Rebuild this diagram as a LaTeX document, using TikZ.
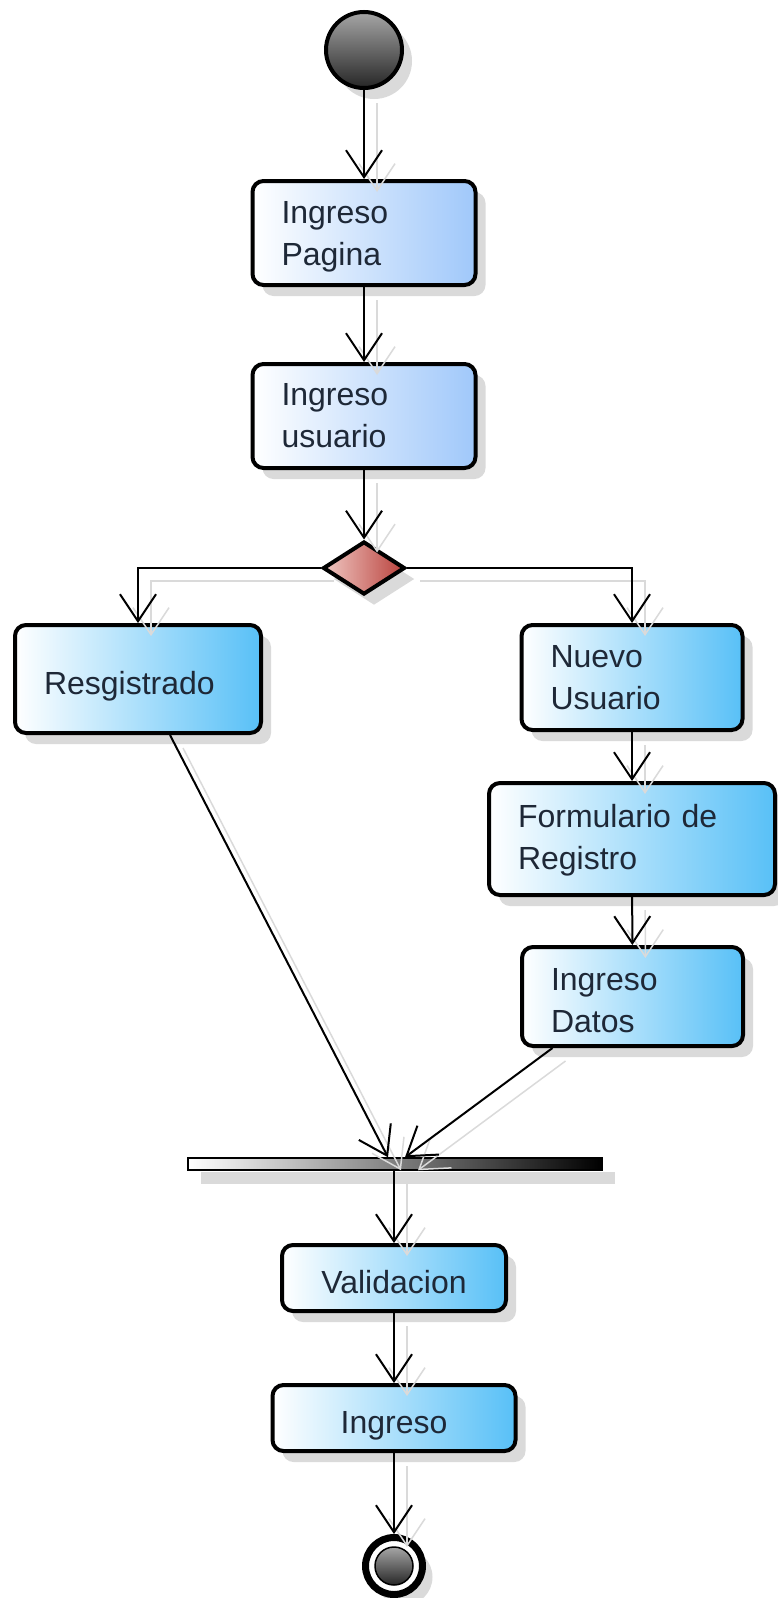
\documentclass[tikz,border=0pt]{standalone}
\usepackage{fontspec}
\setmainfont{Liberation Sans}
\usetikzlibrary{arrows.meta,shapes.geometric,shadows}
\definecolor{txtcol}{RGB}{30,40,55}
\definecolor{paleblue}{RGB}{160,200,250}
\definecolor{skyblue}{RGB}{88,192,247}
\definecolor{pinkish}{RGB}{240,200,195}
\definecolor{darkred}{RGB}{185,65,60}
\definecolor{shadowgray}{RGB}{218,218,218}
\definecolor{lineshadow}{RGB}{218,218,218}
\begin{document}
\begin{tikzpicture}[x=1pt,y=-1pt,
  shad/.style={drop shadow={shadow xshift=10pt,shadow yshift=-11pt,fill=shadowgray,opacity=1}},
  act/.style={draw=black, line width=4pt, rounded corners=11pt, shad,
    inner xsep=29pt, inner ysep=0pt, font=\fontsize{32pt}{42pt}\selectfont, text=txtcol},
  pale/.style={left color=white, right color=paleblue},
  sky/.style={left color=white, right color=skyblue},
  twoline/.style={align=left, text height=12pt, text depth=32pt},
  oneleft/.style={align=left, text height=30pt, text depth=0pt},
  onecenter/.style={align=center, text height=30pt, text depth=0pt},
  conn/.style={draw=black, line width=2pt, -{Straight Barb[length=27pt,width=36pt]},
    preaction={draw=lineshadow, line width=1.5pt, transform canvas={shift={(13pt,-13pt)}}}}
]
\useasboundingbox (0,0) rectangle (777,1598);

% start node
\node[circle, draw=black, line width=4pt, minimum size=76pt, inner sep=0pt,
      top color=black!35, bottom color=black!85, shad] (start) at (364,50) {};

\node[act, pale, twoline, text width=165pt, minimum height=104pt] (pag) at (364,233) {Ingreso\\Pagina};
\node[act, pale, twoline, text width=165pt, minimum height=104pt, text depth=34pt] (usu) at (364,416) {Ingreso\\usuario};

\node[diamond, draw=black, line width=4pt, minimum width=82pt, minimum height=53pt, inner sep=0pt,
      left color=pinkish, right color=darkred, shad] (dec) at (364,568) {};

\node[act, sky, oneleft, text width=188pt, minimum height=108pt] (res) at (138,679) {Resgistrado};
\node[act, sky, twoline, text width=163pt, minimum height=105pt] (nue) at (632,677.5) {Nuevo\\Usuario};
\node[act, sky, twoline, text width=228pt, minimum height=112pt, text depth=36pt] (form) at (632,839) {Formulario de\\Registro};
\node[act, sky, twoline, text width=163pt, minimum height=99pt, text depth=25pt] (dat) at (632.5,996.5) {Ingreso\\Datos};

\node[draw=black, line width=1.5pt, left color=white, right color=black, minimum width=414pt,
      minimum height=12pt, inner sep=0pt,
      drop shadow={shadow xshift=13pt,shadow yshift=-14pt,fill=shadowgray,opacity=1}] (bar) at (395,1164) {};

\node[act, sky, onecenter, text width=166pt, minimum height=66pt] (val) at (394,1278) {Validacion};
\node[act, sky, onecenter, text width=185pt, minimum height=66pt] (ing) at (394,1418) {Ingreso};

\node[circle, draw=black, line width=7pt, fill=white, minimum size=57pt, inner sep=0pt, shad] (end) at (394,1566) {};
\node[circle, draw=black, line width=1.5pt, minimum size=38pt, inner sep=0pt,
      top color=black!35, bottom color=black!85] (endin) at (end.center) {};

% connectors
\draw[conn] (start) -- (pag);
\draw[conn] (pag) -- (usu);
\draw[conn] (usu) -- (dec);
\draw[conn] (dec.west) -| (res.north);
\draw[conn] (dec.east) -| (nue.north);
\draw[conn] (nue) -- (form);
\draw[conn] (form) -- (dat);
\draw[conn] ([xshift=32pt]res.south) -- ([xshift=-7pt]bar.north);
\draw[conn] ([xshift=-80pt]dat.south) -- ([xshift=10pt]bar.north);
\draw[conn] (bar.south -| val.north) -- (val.north);
\draw[conn] (val) -- (ing);
\draw[conn] (ing) -- (end);
\end{tikzpicture}
\end{document}
